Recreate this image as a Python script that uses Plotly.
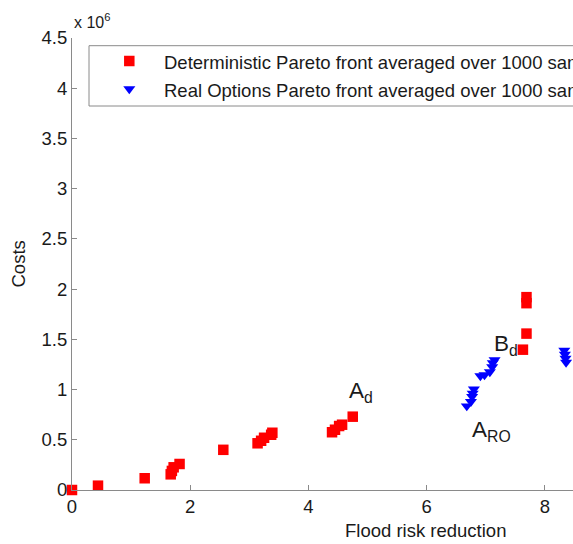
import plotly.graph_objects as go

# ---- data (costs in units of 10^6) ----
det_risk = [0.00, 0.44, 1.23, 1.67, 1.69, 1.72, 1.82, 2.56,
            3.14, 3.20, 3.25, 3.37, 3.39,
            4.40, 4.45, 4.52, 4.57, 4.75,
            7.63, 7.69, 7.69, 7.69]
det_cost = [0.000, 0.043, 0.117, 0.156, 0.190, 0.226, 0.259, 0.400,
            0.465, 0.490, 0.520, 0.550, 0.570,
            0.575, 0.600, 0.637, 0.650, 0.730,
            1.397, 1.557, 1.860, 1.920]

ro_risk = [6.68, 6.75, 6.77, 6.78, 6.80,
           6.91, 6.98, 7.07, 7.11, 7.12, 7.15,
           8.33, 8.34, 8.35, 8.36]
ro_cost = [0.836, 0.879, 0.929, 0.963, 1.003,
           1.135, 1.145, 1.175, 1.225, 1.265, 1.295,
           1.390, 1.350, 1.310, 1.270]

x_ticks = [0, 2, 4, 6, 8]
y_ticks = [0, 0.5, 1, 1.5, 2, 2.5, 3, 3.5, 4, 4.5]
y_tick_labels = ["0", "0.5", "1", "1.5", "2", "2.5", "3", "3.5", "4", "4.5"]

legend_names = ["Deterministic Pareto front averaged over 1000 samples",
                "Real Options Pareto front averaged over 1000 samples"]

# ---- layout constants ----
# the page body margin is removed by the post script, so figure pixels = window pixels
OFF = 0
WIN_W, WIN_H = 573, 544
W, H = WIN_W - OFF, WIN_H - OFF
REF_L, REF_T, REF_B = 72, 38, 490          # plot edges in window pixels
L, T = REF_L - OFF, REF_T - OFF
B = H - (REF_B - OFF)
R = 0
PW, PH = W - L - R, H - T - B
FONT = "Liberation Sans, Arial, Helvetica, sans-serif"
TXT = "#1a1a1a"
AX = "#8a8a8a"
RED = "#ff0000"
BLUE = "#0000ff"
SQ = 10.5
TRI = 10.5

fig = go.Figure()

# custom legend box on an overlay axis measured in pixels from plot top-left
leg_left, leg_top, leg_bottom = 89 - REF_L, 45.7 - REF_T, 106 - REF_T
row_y = [61 - REF_T, 89 - REF_T]
sym_x = 129.3 - REF_L
txt_x = 162 - REF_L
fig.add_shape(type="rect", xref="x2", yref="y2", x0=leg_left, x1=PW + 200,
              y0=leg_top, y1=leg_bottom, line=dict(color=AX, width=1),
              fillcolor="white", layer="below")

fig.add_trace(go.Scatter(x=det_risk, y=det_cost, mode="markers",
                         marker=dict(symbol="square", size=SQ, color=RED),
                         cliponaxis=False, showlegend=False))
fig.add_trace(go.Scatter(x=ro_risk, y=ro_cost, mode="markers",
                         marker=dict(symbol="triangle-down", size=TRI, color=BLUE),
                         cliponaxis=False, showlegend=False))

fig.add_trace(go.Scatter(x=[sym_x], y=[row_y[0]], xaxis="x2", yaxis="y2", mode="markers",
                         marker=dict(symbol="square", size=SQ, color=RED),
                         cliponaxis=False, showlegend=False, hoverinfo="skip"))
fig.add_trace(go.Scatter(x=[sym_x], y=[row_y[1]], xaxis="x2", yaxis="y2", mode="markers",
                         marker=dict(symbol="triangle-down", size=TRI, color=BLUE),
                         cliponaxis=False, showlegend=False, hoverinfo="skip"))
for name, ry in zip(legend_names, row_y):
    fig.add_annotation(x=txt_x, y=ry + 1, xref="x2", yref="y2", text=name,
                       showarrow=False, xanchor="left", yanchor="middle",
                       font=dict(family=FONT, size=18.5, color=TXT))

# point labels
lab_font = dict(family=FONT, size=22.5, color=TXT)
fig.add_annotation(x=4.65, y=0.975, text="A<sub>d</sub>", showarrow=False,
                   xanchor="left", yanchor="middle", font=lab_font)
fig.add_annotation(x=7.10, y=1.44, text="B<sub>d</sub>", showarrow=False,
                   xanchor="left", yanchor="middle", font=lab_font)
fig.add_annotation(x=6.74, y=0.585, text="A<sub>RO</sub>", showarrow=False,
                   xanchor="left", yanchor="middle", font=lab_font)

# exponent label
fig.add_annotation(x=0, y=1, xref="paper", yref="paper", xanchor="left", yanchor="bottom",
                   xshift=0, yshift=5, text="x 10<sup>6</sup>", showarrow=False,
                   font=dict(family=FONT, size=16, color=TXT))

# axis titles
fig.add_annotation(x=(17.5 - REF_L) / PW, y=(REF_B - 264) / PH, xref="paper", yref="paper",
                   text="Costs", textangle=-90, showarrow=False,
                   xanchor="center", yanchor="middle",
                   font=dict(family=FONT, size=18.5, color=TXT))
fig.add_annotation(x=(425.5 - REF_L) / PW, y=-(530 - REF_B) / PH, xref="paper", yref="paper",
                   text="Flood risk reduction", showarrow=False,
                   xanchor="center", yanchor="middle",
                   font=dict(family=FONT, size=18.5, color=TXT))

axis_common = dict(showline=True, linecolor=AX, linewidth=1, ticks="inside", ticklen=5,
                   tickcolor=AX, showgrid=False, zeroline=False, automargin=False,
                   tickfont=dict(family=FONT, size=18.5, color=TXT))
fig.update_layout(
    width=W, height=H,
    margin=dict(l=L, r=R, t=T, b=B, pad=0),
    paper_bgcolor="white", plot_bgcolor="white",
    showlegend=False,
    xaxis=dict(range=[0, PW / 59.1], tickmode="array", tickvals=x_ticks,
               ticklabelstandoff=0, **axis_common),
    yaxis=dict(range=[0, 4.5], tickmode="array", tickvals=y_ticks, ticktext=y_tick_labels,
               ticklabelstandoff=0, **axis_common),
    xaxis2=dict(overlaying="x", range=[0, PW], visible=False, fixedrange=True),
    yaxis2=dict(overlaying="y", range=[PH, 0], visible=False, fixedrange=True),
)

fig.write_html(
    "out.html",
    config={"displayModeBar": False},
    post_script="document.body.style.margin='0';"
                "document.documentElement.style.overflow='hidden';"
                "document.body.style.overflow='hidden';",
)
